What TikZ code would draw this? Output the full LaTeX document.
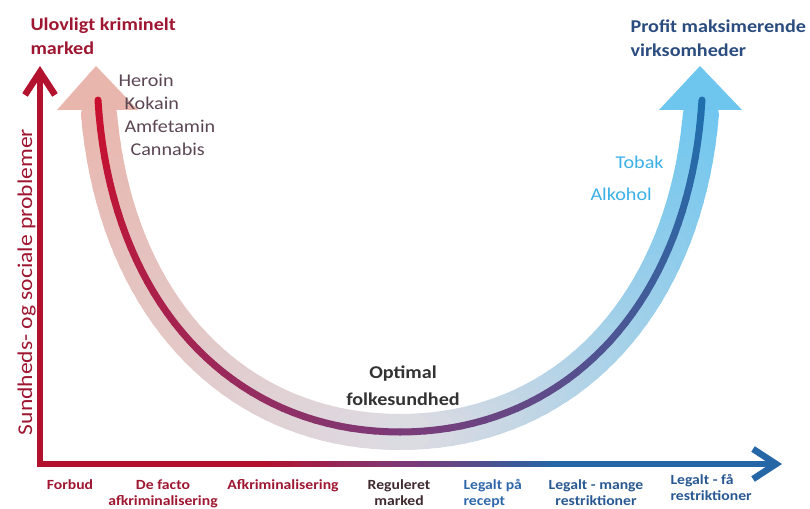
\documentclass[tikz,border=0pt]{standalone}
\usepackage{fontspec}
\setmainfont{Carlito}[FakeStretch=1.12]
\usepackage{tikz}
\usetikzlibrary{arrows.meta,positioning,calc}
\definecolor{axred}{HTML}{B3122E}
\definecolor{axmid}{HTML}{7A3A78}
\definecolor{axblue}{HTML}{2466A6}
\definecolor{bandL}{HTML}{E9B6AD}
\definecolor{bandM}{HTML}{DDDBE2}
\definecolor{bandR}{HTML}{6EC6EF}
\definecolor{coreL}{HTML}{C8102E}
\definecolor{coreM}{HTML}{7C3A78}
\definecolor{coreR}{HTML}{1F6FAD}
\definecolor{crimtxt}{HTML}{9E1630}
\definecolor{drugtxt}{HTML}{5B4653}
\definecolor{navytxt}{HTML}{2B4C7E}
\definecolor{skytxt}{HTML}{3BB0E6}
\definecolor{regtxt}{HTML}{3F2A30}
\definecolor{legtxt}{HTML}{2F68AA}
\tikzstyle{band}=[line width=36pt,line cap=round]
\tikzstyle{core}=[line width=7pt,line cap=round]
\tikzstyle{axis}=[line width=6.5pt,-{Straight Barb[length=23pt,width=30pt]}]
\tikzstyle{axbody}=[line width=6.5pt]
\tikzstyle{headline}=[font=\bfseries\fontsize{18}{24}\selectfont,align=left,anchor=base west]
\tikzstyle{drug}=[font=\fontsize{18}{22}\selectfont,anchor=base west]
\tikzstyle{stage}=[font=\bfseries\fontsize{14}{15.5}\selectfont,anchor=base]

\begin{document}
\begin{tikzpicture}[x=1pt,y=-1pt,
  declare function={bz(\t,\a,\b,\c,\d)=(1-\t)^3*\a+3*(1-\t)^2*\t*\b+3*(1-\t)*\t^2*\c+\t^3*\d;}]
\useasboundingbox (0,0) rectangle (810,508);

\coordinate (o) at (40,464);
\coordinate (ytop) at (40,66);
\coordinate (xtop) at (782,464);
\coordinate (lt) at (96,66);
\coordinate (lb1) at (57,110);
\coordinate (lb2) at (138,110);
\coordinate (rt) at (700,66);
\coordinate (rb1) at (659,110);
\coordinate (rb2) at (742,110);

\draw[axis,axred] ($(o)+(0,3.25)$) -- (ytop);
\draw[axbody,axred] ($(o)+(-3.25,0)$) -- (262,464);
\foreach \i in {0,...,29}{
  \pgfmathtruncatemacro\p{100-100*\i/29}
  \pgfmathsetmacro\xa{260+10*\i}
  \ifnum\i<15
    \pgfmathtruncatemacro\q{100-100*\i/14}
    \draw[axbody,axred!\q!axmid] (\xa,464) -- (\xa+10.5,464);
  \else
    \pgfmathtruncatemacro\q{100*(\i-15)/14}
    \draw[axbody,axblue!\q!axmid] (\xa,464) -- (\xa+10.5,464);
  \fi
}
\draw[axis,axblue] (559,464) -- (xtop);

\foreach \i in {1,...,39}{
  \pgfmathsetmacro\ta{\i/40}
  \pgfmathsetmacro\tb{(\i+1)/40}
  \pgfmathtruncatemacro\p{100-2.5*\i}
  \draw[band,bandL!\p!bandM] ({bz(\ta,98,110,230,400)},{bz(\ta,100,300,432,432)}) -- ({bz(\tb,98,110,230,400)},{bz(\tb,100,300,432,432)});
  \draw[band,bandR!\p!bandM] ({bz(\ta,702,690,570,400)},{bz(\ta,100,300,432,432)}) -- ({bz(\tb,702,690,570,400)},{bz(\tb,100,300,432,432)});
}
\fill[bandL] (lt) -- (lb1) -- (lb2) -- cycle;
\fill[bandR] (rt) -- (rb1) -- (rb2) -- cycle;

\foreach \i in {0,...,39}{
  \pgfmathsetmacro\ta{\i/40}
  \pgfmathsetmacro\tb{(\i+1)/40}
  \pgfmathtruncatemacro\p{100-2.5*\i}
  \draw[core,coreL!\p!coreM] ({bz(\ta,98,110,230,400)},{bz(\ta,100,300,432,432)}) -- ({bz(\tb,98,110,230,400)},{bz(\tb,100,300,432,432)});
  \draw[core,coreR!\p!coreM] ({bz(\ta,702,690,570,400)},{bz(\ta,100,300,432,432)}) -- ({bz(\tb,702,690,570,400)},{bz(\tb,100,300,432,432)});
}

\node[headline,text=crimtxt] (crime) at (27,55) {Ulovligt kriminelt\\marked};
\node[headline,text=navytxt] (profit) at (627,57) {Profit maksimerende\\virksomheder};
\node[drug,text=drugtxt] (heroin) at (115,87) {Heroin};
\node[drug,text=drugtxt] (kokain) at (121,110) {Kokain};
\node[drug,text=drugtxt] (amfet) at (121,132) {Amfetamin};
\node[drug,text=drugtxt] (cannab) at (127,155) {Cannabis};
\node[drug,text=skytxt] (tobak) at (612,168) {Tobak};
\node[drug,text=skytxt] (alkohol) at (587,200) {Alkohol};
\node[font=\bfseries\fontsize{18}{27}\selectfont,text=black!80,align=center,anchor=base] (optimal) at (403,405) {Optimal\\folkesundhed};
\node[font=\fontsize{21}{24}\selectfont,text=crimtxt,rotate=90,anchor=base] (yaxis) at (32,282) {Sundheds- og sociale problemer};

\node[stage,text=crimtxt] (forbud) at (70,489) {Forbud};
\node[stage,text=crimtxt,align=center] (facto) at (163,505) {De facto\\afkriminalisering};
\node[stage,text=crimtxt] (afkrim) at (283,489) {Afkriminalisering};
\node[stage,text=regtxt,align=center] (reg) at (399,505) {Reguleret\\marked};
\node[stage,text=legtxt,align=left,anchor=base west] (recept) at (460,505) {Legalt på\\recept};
\node[stage,text=legtxt!85!black,align=center] (mange) at (596,505) {Legalt - mange\\restriktioner};
\node[stage,text=legtxt!85!black,align=left,anchor=base west] (faa) at (667,500) {Legalt - få\\restriktioner};
\end{tikzpicture}
\end{document}
